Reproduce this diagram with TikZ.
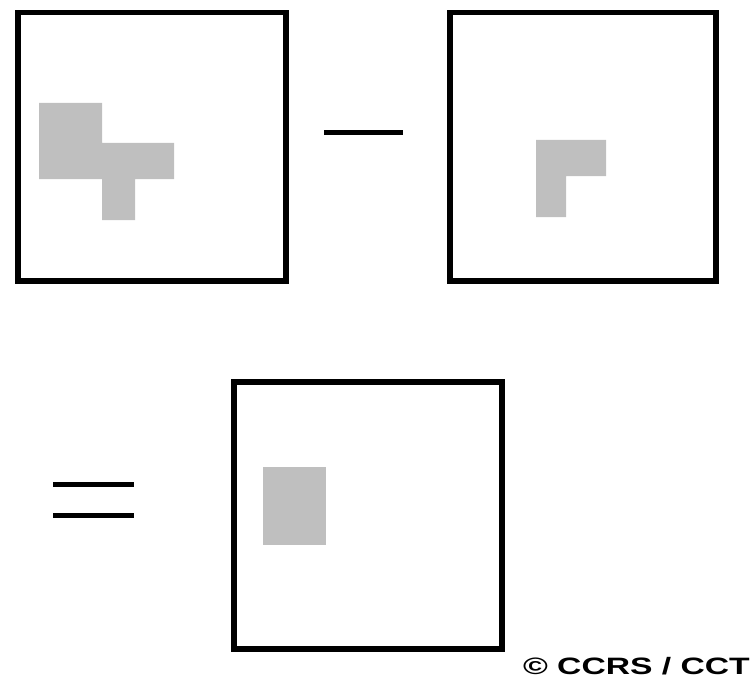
\documentclass[tikz,border=0pt]{standalone}
\usepackage{fontspec}
\newfontfamily\capfont{Liberation Sans}
\definecolor{blobgray}{RGB}{191,191,191}
\tikzset{
  frame/.style={draw=black, line width=5.5pt},
  blob/.style={fill=blobgray, draw=none},
  opline/.style={draw=black, line width=5pt},
}
\begin{document}
\begin{tikzpicture}[x=1pt, y=-1pt]
\useasboundingbox (0,0) rectangle (752,682);
% first image
\fill[blob] (39,103) -- (102,103) -- (102,143) -- (174,143) -- (174,179) -- (135,179)
  -- (135,220) -- (102,220) -- (102,179) -- (39,179) -- cycle;
\draw[frame] (18,12.5) rectangle (286,281);
% minus
\draw[opline] (324,133) -- (403,133);
% second image
\fill[blob] (536,140) -- (606,140) -- (606,176) -- (566,176) -- (566,217) -- (536,217) -- cycle;
\draw[frame] (450,12.5) rectangle (716,281);
% equals
\draw[opline] (53,484) -- (134,484);
\draw[opline] (53,515) -- (134,515);
% result image
\fill[blob] (263,467) rectangle (326,545);
\draw[frame] (234,382) rectangle (502,649);
% credit
\node[anchor=base east, inner sep=0pt] (credit) at (750,674)
  {\scalebox{1.42}[1]{\capfont\bfseries\fontsize{23.7}{24}\selectfont © CCRS / CCT}};
\end{tikzpicture}
\end{document}
